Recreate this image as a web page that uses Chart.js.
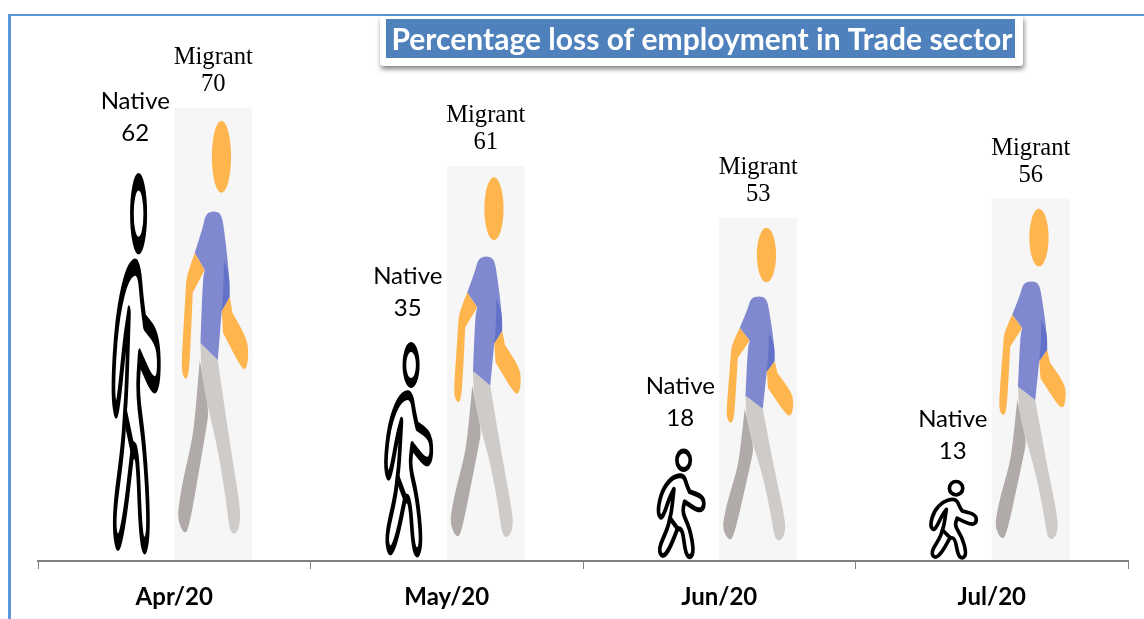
<!DOCTYPE html>
<html>
<head>
<meta charset="utf-8">
<style>html,body{margin:0;padding:0;background:#fff;overflow:hidden}canvas{display:block}</style>
<script src="https://cdn.jsdelivr.net/npm/chart.js@4"></script>
</head>
<body>
<canvas id="c" width="1144" height="619"></canvas>
<script>
const chartTitle = 'Percentage loss of employment in Trade sector';
const categories = ['Apr/20', 'May/20', 'Jun/20', 'Jul/20'];
const nativeName = 'Native';
const migrantName = 'Migrant';
const nativeValues = [62, 35, 18, 13];
const migrantValues = [70, 61, 53, 56];

/* closed outline through control points; a point listed twice is a sharp corner */
function smooth(pts) {
  const p = new Path2D(), n = pts.length;
  const mid = (a, b) => [(a[0] + b[0]) / 2, (a[1] + b[1]) / 2];
  const s = mid(pts[n - 1], pts[0]);
  p.moveTo(s[0], s[1]);
  for (let i = 0; i < n; i++) {
    const m = mid(pts[i], pts[(i + 1) % n]);
    p.quadraticCurveTo(pts[i][0], pts[i][1], m[0], m[1]);
  }
  p.closePath();
  return p;
}

/* glyph for the migrant figure: drawn in a 78 x 453 box (offset 174.5,108) */
const migrantBox = {x: 174.5, y: 108, w: 78, h: 453};
const head = new Path2D(); head.ellipse(221.7, 157, 9.6, 36, 0, 0, Math.PI * 2);
const migrantParts = [
  ['#b0aaa9', smooth([[200,360],[200,360],[209.3,410],[206.7,427],[201.7,457],[189,530],[184,534],[178,520],[179,505],[183.3,480],[191.7,443],[195,420]])],
  ['#cfcbc8', smooth([[200.7,343],[200.7,343],[218,360],[218,360],[223.3,397],[231.7,453],[239.3,500],[241,520],[237,534],[230,533],[226.7,503],[218.3,450],[209.3,412],[201.7,377]])],
  ['#ffb54d', smooth([[195,253],[195,253],[186.7,277],[186,290],[183,340],[181.5,370],[185,380],[189,376],[191,340],[193,293],[193,293],[205,270],[205,270]])],
  ['#ffb54d', smooth([[230,297],[230,297],[232.7,313],[232.7,313],[246.7,338],[249,352],[247,369],[242,369],[223.3,333],[223.3,333],[222,311],[222,311]])],
  ['#8089cf', smooth([[214,211],[206,214],[203,228],[195,253],[195,253],[205,270],[205,270],[203,280],[200.7,343],[200.7,343],[218,360],[218,360],[222,311],[222,311],[230,297],[229,270],[225,235],[222,214]])],
  ['#6272c8', smooth([[224,260],[224,260],[229.7,275],[230,297],[230,297],[222,311],[222,311],[224,285]])],
  ['#ffb54d', head]
];

/* glyph for the native figure: outline drawn in a 234 x 252 box (offset 42,21) */
const nativeBox = {x: 42, y: 21, w: 234, h: 252};
const nativeHead = new Path2D(); nativeHead.ellipse(169, 55, 20, 20, 0, 0, Math.PI * 2);
const nativeBody = smooth([
  [158,87],[172,92],[178,108],[187,123],[187,123],[228,134],[231,158],[214,165],[172,145],[172,145],
  [165,168],[187,201],[200,250],[190,266],[175,258],[166,205],[151,203],[151,203],[127,247],
  [106,266],[93,247],[121,203],[128,180],[133,165],[140,118],[140,118],[127,136],[110,172],
  [100,181],[91,165],[103,123],[130,95]
]);
const nativeInner = new Path2D();
nativeInner.moveTo(128, 180);
nativeInner.lineTo(151, 203);

const pictograms = {
  id: 'pictograms',
  afterDatasetsDraw(chart) {
    const ctx = chart.ctx;
    chart.getDatasetMeta(0).data.forEach(bar => {
      const h = bar.base - bar.y;
      ctx.save();
      ctx.translate(bar.x - bar.width / 2, bar.y);
      ctx.scale(bar.width / nativeBox.w, h / nativeBox.h);
      ctx.translate(-nativeBox.x, -nativeBox.y);
      ctx.strokeStyle = '#000';
      ctx.lineWidth = 11;
      ctx.lineJoin = 'round';
      ctx.stroke(nativeHead);
      ctx.stroke(nativeBody);
      ctx.stroke(nativeInner);
      ctx.restore();
    });
    chart.getDatasetMeta(1).data.forEach(bar => {
      const h = bar.base - bar.y;
      ctx.save();
      ctx.translate(bar.x - bar.width / 2, bar.y);
      ctx.scale(bar.width / migrantBox.w, h / migrantBox.h);
      ctx.translate(-migrantBox.x, -migrantBox.y);
      migrantParts.forEach(([col, path]) => { ctx.fillStyle = col; ctx.fill(path); });
      ctx.restore();
    });
  }
};

const valueLabels = {
  id: 'valueLabels',
  afterDatasetsDraw(chart) {
    const ctx = chart.ctx;
    ctx.save();
    ctx.textAlign = 'center';
    ctx.textBaseline = 'middle';
    ctx.fillStyle = '#000';
    ctx.font = '24px Lato';
    chart.getDatasetMeta(0).data.forEach((bar, i) => {
      ctx.fillText(nativeName, bar.x, bar.y - 58);
      ctx.fillText(String(nativeValues[i]), bar.x, bar.y - 26);
    });
    ctx.font = '24.6px "Liberation Serif"';
    chart.getDatasetMeta(1).data.forEach((bar, i) => {
      ctx.fillText(migrantName, bar.x, bar.y - 50);
      ctx.fillText(String(migrantValues[i]), bar.x, bar.y - 23);
    });
    ctx.restore();
  }
};

const frameAndTitle = {
  id: 'frameAndTitle',
  afterDraw(chart) {
    const ctx = chart.ctx;
    ctx.save();
    ctx.fillStyle = '#5b95dc';
    ctx.fillRect(8, 14, chart.width - 8, 2);
    ctx.fillRect(8, 14, 3, chart.height - 14);
    ctx.shadowColor = 'rgba(0,0,0,0.5)';
    ctx.shadowBlur = 5;
    ctx.shadowOffsetX = 1;
    ctx.shadowOffsetY = 3;
    ctx.fillStyle = '#fff';
    ctx.beginPath();
    ctx.roundRect(380, 16, 643, 50, 3);
    ctx.fill();
    ctx.shadowColor = 'transparent';
    ctx.fillStyle = '#4f81bd';
    ctx.fillRect(386, 19, 629, 39);
    ctx.fillStyle = '#fff';
    ctx.font = 'bold 30px Lato';
    ctx.textAlign = 'center';
    ctx.textBaseline = 'middle';
    ctx.fillText(chartTitle, 702, 40);
    ctx.restore();
  }
};

new Chart(document.getElementById('c'), {
  type: 'bar',
  data: {
    labels: categories,
    datasets: [
      {label: nativeName, data: nativeValues, backgroundColor: 'rgba(255,255,255,0)', borderWidth: 0},
      {label: migrantName, data: migrantValues, backgroundColor: '#f6f6f6', borderWidth: 0}
    ]
  },
  plugins: [pictograms, valueLabels, frameAndTitle],
  options: {
    responsive: false,
    animation: false,
    events: [],
    layout: {padding: {left: 38, right: 16, top: 43, bottom: 0}},
    datasets: {bar: {barPercentage: 1, categoryPercentage: 0.5725}},
    plugins: {legend: {display: false}, title: {display: false}, tooltip: {enabled: false}},
    scales: {
      y: {display: false, min: 0, max: 80},
      x: {
        afterFit(scale) { scale.height = 58; },
        border: {color: '#808080', width: 2, z: 1},
        grid: {drawOnChartArea: false, color: '#808080', tickLength: 8, tickWidth: 1, offset: true},
        ticks: {color: '#000', font: {family: 'Lato', weight: 'bold', size: 24}, padding: 14, maxRotation: 0}
      }
    }
  }
});
</script>
</body>
</html>
